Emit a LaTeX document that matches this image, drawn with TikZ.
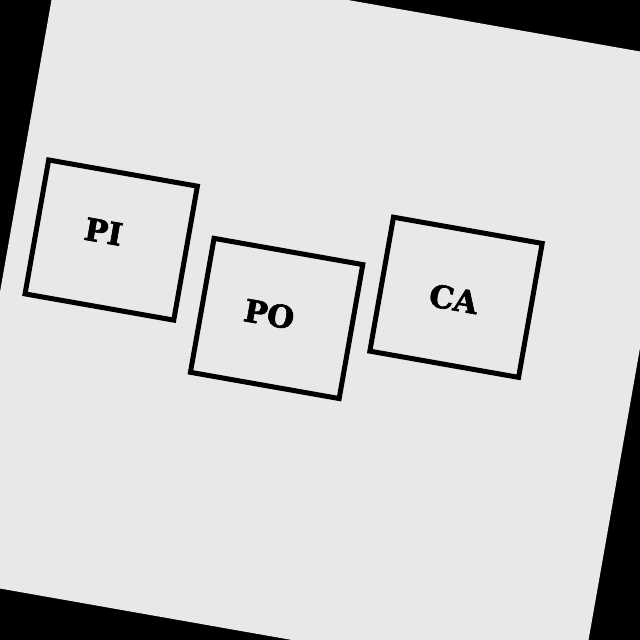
\documentclass[tikz,border=0pt]{standalone}
\usepackage{fontspec}
\newfontfamily\slabfont[BoldFeatures={FakeBold=2}]{DejaVu Serif}
\usepackage{tikz}
\usetikzlibrary{positioning}
\usepackage{xcolor}
\definecolor{paper}{RGB}{232,232,232}

\tikzset{
  block/.style={draw=black, line width=5pt, minimum width=151pt, minimum height=136pt, inner sep=0pt},
  tag/.style={font=\slabfont\bfseries\fontsize{31}{35}\selectfont, inner sep=0pt}
}

\begin{document}
\begin{tikzpicture}[x=1pt,y=-1pt]
\useasboundingbox (0,0) rectangle (640,640);
\fill[black] (0,0) rectangle (640,640);

\begin{scope}[rotate around={-10:(320,320)}, transform shape]
\fill[paper] (0,0) rectangle (640,640);

    % We start by placing the blocks
\node[block] (piBox) at (100.5,277.5) {};
\node[block] (poBox) at (277,326) {};
\node[block] (caBox) at (450,274) {};

\node[tag] (piText) at (91.5,270.5) {PI};
\node[tag] (poText) at (269,323) {PO};
\node[tag] (caText) at (448,276) {CA};
\end{scope}

\end{tikzpicture}
\end{document}
